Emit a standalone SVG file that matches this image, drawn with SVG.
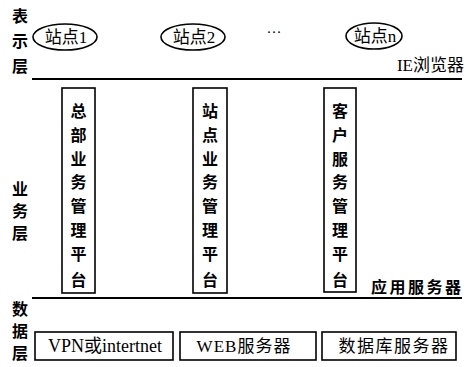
<svg xmlns="http://www.w3.org/2000/svg" width="468" height="367" viewBox="0 0 468 367">
<style>
.t{font-family:"Liberation Serif","Noto Sans CJK SC",serif;fill:#000}
.c{font-family:"Noto Sans CJK SC",sans-serif;font-weight:bold;fill:#000;font-size:16px;letter-spacing:2.5px}
.v{font-family:"Noto Sans CJK SC",sans-serif;font-weight:bold;fill:#000;font-size:16px;text-anchor:middle}
.box{fill:#fff;stroke:#000;stroke-width:1.6}
.sep{stroke:#000;stroke-width:2}
</style>
<rect width="468" height="367" fill="#fff"/>
<g id="layer-labels">
<text class="v" x="20" y="15" dominant-baseline="central">表</text>
<text class="v" x="20" y="40" dominant-baseline="central">示</text>
<text class="v" x="20" y="65" dominant-baseline="central">层</text>
<text class="v" x="20" y="188" dominant-baseline="central">业</text>
<text class="v" x="20" y="210" dominant-baseline="central">务</text>
<text class="v" x="20" y="232" dominant-baseline="central">层</text>
<text class="v" x="20" y="308" dominant-baseline="central" font-size="15">数</text>
<text class="v" x="20" y="330" dominant-baseline="central" font-size="15">据</text>
<text class="v" x="20" y="352" dominant-baseline="central" font-size="15">层</text>
</g>
<g id="separators">
<line class="sep" x1="32" y1="79" x2="462" y2="79"/>
<line class="sep" x1="32" y1="298" x2="462" y2="298"/>
</g>
<g id="site1">
<ellipse class="box" cx="65" cy="37" rx="32" ry="13"/>
<text class="t" x="66" y="43" font-size="17" text-anchor="middle">站点1</text>
</g>
<g id="site2">
<ellipse class="box" cx="193" cy="37" rx="32" ry="13"/>
<text class="t" x="194" y="43" font-size="17" text-anchor="middle">站点2</text>
</g>
<text class="t" x="274" y="37" font-size="15" text-anchor="middle">···</text>
<g id="siten">
<ellipse class="box" cx="374" cy="36" rx="28" ry="13"/>
<text class="t" x="375" y="42" font-size="17" text-anchor="middle">站点n</text>
</g>
<text class="t" x="464" y="71" font-size="17" text-anchor="end">IE浏览器</text>
<g id="hq-platform">
<rect class="box" x="62" y="88" width="33" height="205"/>
<g class="v">
<text x="78.5" y="110" dominant-baseline="central">总</text>
<text x="78.5" y="134" dominant-baseline="central">部</text>
<text x="78.5" y="158" dominant-baseline="central">业</text>
<text x="78.5" y="181" dominant-baseline="central">务</text>
<text x="78.5" y="205" dominant-baseline="central">管</text>
<text x="78.5" y="229" dominant-baseline="central">理</text>
<text x="78.5" y="253" dominant-baseline="central">平</text>
<text x="78.5" y="279" dominant-baseline="central">台</text>
</g>
</g>
<g id="site-platform">
<rect class="box" x="193" y="88" width="34" height="205"/>
<g class="v">
<text x="210" y="110" dominant-baseline="central">站</text>
<text x="210" y="134" dominant-baseline="central">点</text>
<text x="210" y="158" dominant-baseline="central">业</text>
<text x="210" y="181" dominant-baseline="central">务</text>
<text x="210" y="205" dominant-baseline="central">管</text>
<text x="210" y="229" dominant-baseline="central">理</text>
<text x="210" y="253" dominant-baseline="central">平</text>
<text x="210" y="279" dominant-baseline="central">台</text>
</g>
</g>
<g id="client-platform">
<rect class="box" x="324" y="88" width="32" height="204"/>
<g class="v">
<text x="340" y="110" dominant-baseline="central">客</text>
<text x="340" y="134" dominant-baseline="central">户</text>
<text x="340" y="158" dominant-baseline="central">服</text>
<text x="340" y="181" dominant-baseline="central">务</text>
<text x="340" y="205" dominant-baseline="central">管</text>
<text x="340" y="229" dominant-baseline="central">理</text>
<text x="340" y="253" dominant-baseline="central">平</text>
<text x="340" y="279" dominant-baseline="central">台</text>
</g>
</g>
<text class="c" x="371" y="293">应用服务器</text>
<g id="vpn">
<rect class="box" x="35" y="332" width="138" height="28"/>
<text class="t" x="105" y="352" font-size="18" text-anchor="middle">VPN或intertnet</text>
</g>
<g id="web">
<rect class="box" x="180" y="332" width="136" height="28"/>
<text class="t" x="244" y="352" font-size="17" text-anchor="middle" letter-spacing="1">WEB服务器</text>
</g>
<g id="db">
<rect class="box" x="322" y="332" width="134" height="28"/>
<text class="t" x="394" y="352" font-size="17" text-anchor="middle" letter-spacing="1.5">数据库服务器</text>
</g>
</svg>
